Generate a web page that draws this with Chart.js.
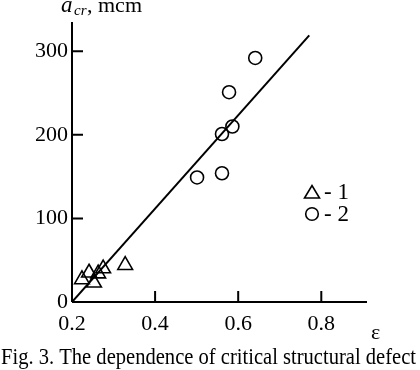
<!DOCTYPE html>
<html><head><meta charset="utf-8">
<script src="https://cdn.jsdelivr.net/npm/chart.js@4/dist/chart.umd.min.js"></script>
<style>html,body{margin:0;padding:0;background:#fff;}#wrap{width:420px;height:370px;}</style>
</head><body><div id="wrap"><canvas id="c" width="420" height="370"></canvas></div>
<script>
const series1 = [ // triangles (ε, a_cr)
  {x:0.224,y:27},{x:0.241,y:35},{x:0.253,y:23},{x:0.263,y:34},{x:0.275,y:40},{x:0.328,y:44}
];
const series2 = [ // circles
  {x:0.501,y:149},{x:0.561,y:154},{x:0.561,y:201},{x:0.586,y:210},{x:0.578,y:251},{x:0.641,y:292}
];
const fitLine = [{x:0.2,y:0},{x:0.771,y:319}];
const xTicks = [0.2,0.4,0.6,0.8];
const yTicks = [0,100,200,300];
const xRange = [0.2,0.91];
const yRange = [0,335];
const legendLabels = ['- 1','- 2'];
const captionText = 'Fig. 3. The dependence of critical structural defect';

const FONT = '"Liberation Serif","DejaVu Serif",serif';

const decor = {
  id:'decor',
  afterDraw(chart){
    const ctx = chart.ctx, xs = chart.scales.x, ys = chart.scales.y;
    const ca = chart.chartArea;
    ctx.save();
    ctx.strokeStyle='#000'; ctx.lineWidth=2;
    ctx.beginPath();
    ctx.moveTo(ca.left, ca.top); ctx.lineTo(ca.left, ca.bottom);
    ctx.moveTo(ca.left, ca.bottom); ctx.lineTo(ca.right, ca.bottom);
    ctx.stroke();
    ctx.beginPath();
    yTicks.forEach(v=>{const p=ys.getPixelForValue(v); if(v!==0){ctx.moveTo(ca.left,p);ctx.lineTo(ca.left+11,p);}});
    xTicks.forEach(v=>{const p=xs.getPixelForValue(v); if(v!==xRange[0]){ctx.moveTo(p,ca.bottom);ctx.lineTo(p,ca.bottom-11);}});
    ctx.stroke();
    // y title
    ctx.fillStyle='#000';
    ctx.textBaseline='alphabetic'; ctx.textAlign='left';
    ctx.font='italic 23px '+FONT;
    ctx.fillText('a',61,12);
    ctx.font='italic 15px '+FONT;
    ctx.fillText('cr',74,15);
    ctx.font='22px '+FONT;
    ctx.fillText(',',87,12);
    ctx.fillText('mcm',98,12);
    // epsilon
    ctx.font='22px '+FONT;
    ctx.fillText('ε',371,339);
    // caption, fitted to width
    ctx.font='24px '+FONT;
    const w = ctx.measureText(captionText).width;
    ctx.save();
    ctx.translate(1,364);
    ctx.scale(415/w,1);
    ctx.fillText(captionText,0,0);
    ctx.restore();
    // legend
    const lx=312;
    const items=[{y:192,style:'triangle'},{y:214,style:'circle'}];
    items.forEach((it,i)=>{
      ctx.lineWidth=1.6; ctx.strokeStyle='#000';
      if(it.style==='triangle'){
        ctx.beginPath(); ctx.moveTo(lx-7.5,it.y+6); ctx.lineTo(lx+7.5,it.y+6); ctx.lineTo(lx,it.y-6.5); ctx.closePath(); ctx.stroke();
      } else {
        ctx.beginPath(); ctx.arc(lx,it.y,6.3,0,Math.PI*2); ctx.stroke();
      }
      ctx.font='23px '+FONT;
      ctx.fillText(legendLabels[i],lx+12,it.y+7);
    });
    ctx.restore();
  }
};

new Chart(document.getElementById('c'),{
  type:'scatter',
  data:{datasets:[
    {label:'line',data:fitLine,showLine:true,borderColor:'#000',borderWidth:2,pointRadius:0,fill:false},
    {label:'1',data:series1,pointStyle:'triangle',pointRadius:8.5,borderColor:'#000',backgroundColor:'rgba(0,0,0,0)',pointBorderWidth:1.6},
    {label:'2',data:series2,pointStyle:'circle',pointRadius:6.5,borderColor:'#000',backgroundColor:'rgba(0,0,0,0)',pointBorderWidth:1.6}
  ]},
  options:{
    responsive:false,animation:false,
    layout:{padding:{top:22,right:53,left:0,bottom:0}},
    plugins:{legend:{display:false},tooltip:{enabled:false}},
    scales:{
      x:{type:'linear',min:xRange[0],max:xRange[1],
        afterBuildTicks(s){s.ticks=xTicks.map(v=>({value:v}));},
        afterFit(s){s.height=68;},
        grid:{display:false,drawTicks:false},border:{display:false},
        ticks:{color:'#000',font:{family:FONT,size:22},padding:9,maxRotation:0,callback:v=>v.toFixed(1)}},
      y:{type:'linear',min:yRange[0],max:yRange[1],
        afterBuildTicks(s){s.ticks=yTicks.map(v=>({value:v}));},
        afterFit(s){s.width=72;},
        grid:{display:false,drawTicks:false},border:{display:false},
        ticks:{color:'#000',font:{family:FONT,size:22},padding:4}}
    }
  },
  plugins:[decor]
});
</script></body></html>
